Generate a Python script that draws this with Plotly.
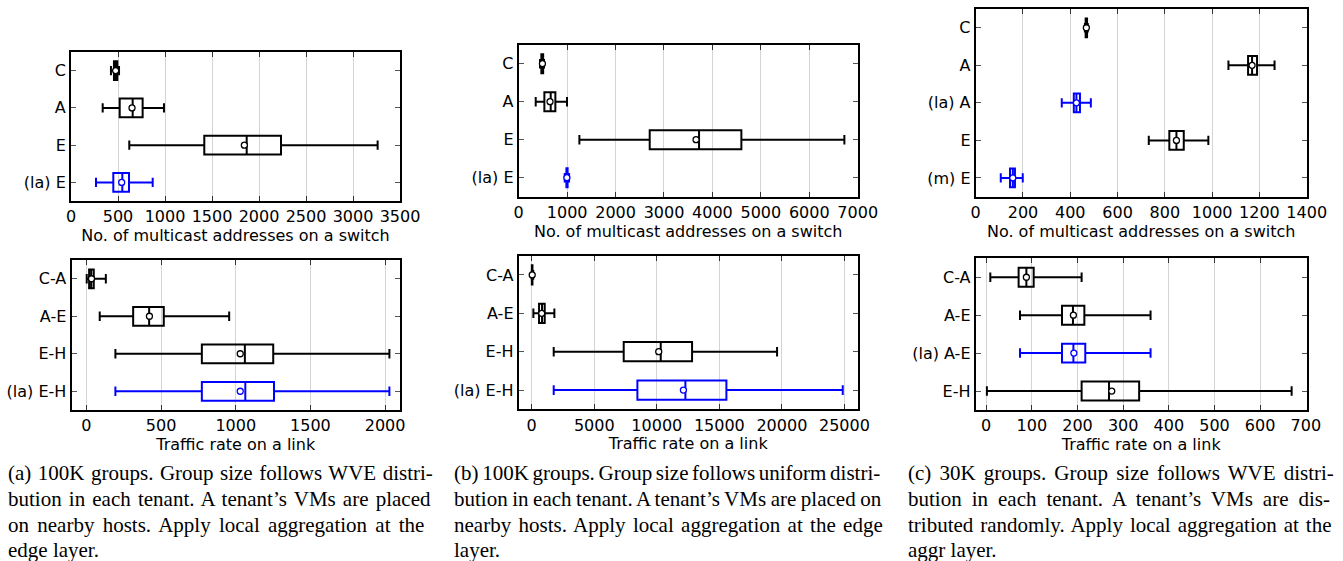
import plotly.graph_objects as go

W, H = 1343, 561

# ---------------- data ----------------
# (a) switches
a_sw_labels = ["C", "A", "E", "(la) E"]
a_sw_low = [425, 337, 620, 266]
a_sw_q1 = [457, 518, 1418, 450]
a_sw_med = [472, 656, 1869, 546]
a_sw_q3 = [493, 762, 2234, 617]
a_sw_high = [511, 989, 3262, 869]
a_sw_mean = [475, 649, 1844, 539]
a_sw_ticks = [0, 500, 1000, 1500, 2000, 2500, 3000, 3500]

# (a) links
a_ln_labels = ["C-A", "A-E", "E-H", "(la) E-H"]
a_ln_low = [2, 89, 194, 194]
a_ln_q1 = [18, 313, 773, 773]
a_ln_med = [32, 420, 1061, 1064]
a_ln_q3 = [49, 518, 1251, 1256]
a_ln_high = [130, 956, 2029, 2029]
a_ln_mean = [34, 422, 1030, 1030]
a_ln_ticks = [0, 500, 1000, 1500, 2000]

# (b) switches
b_sw_labels = ["C", "A", "E", "(la) E"]
b_sw_low = [440, 351, 1253, 950]
b_sw_q1 = [468, 530, 2705, 985]
b_sw_med = [488, 661, 3724, 995]
b_sw_q3 = [505, 757, 4598, 1010]
b_sw_high = [523, 998, 6725, 1040]
b_sw_mean = [490, 647, 3662, 995]
b_sw_ticks = [0, 1000, 2000, 3000, 4000, 5000, 6000, 7000]

# (b) links
b_ln_labels = ["C-A", "A-E", "E-H", "(la) E-H"]
b_ln_low = [0, 133, 1759, 1759]
b_ln_q1 = [10, 586, 7355, 8448]
b_ln_med = [40, 826, 10314, 12286]
b_ln_q3 = [60, 1039, 12819, 15564]
b_ln_high = [120, 1812, 19614, 24865]
b_ln_mean = [40, 800, 10154, 12126]
b_ln_ticks = [0, 5000, 10000, 15000, 20000, 25000]

# (c) switches
c_sw_labels = ["C", "A", "(la) A", "E", "(m) E"]
c_sw_low = [462, 1069, 364, 732, 106]
c_sw_q1 = [465, 1152, 415, 819, 145]
c_sw_med = [468, 1169, 426, 849, 157]
c_sw_q3 = [471, 1190, 441, 880, 166]
c_sw_high = [474, 1264, 487, 984, 199]
c_sw_mean = [468, 1169, 426, 849, 157]
c_sw_ticks = [0, 200, 400, 600, 800, 1000, 1200, 1400]

# (c) links
c_ln_labels = ["C-A", "A-E", "(la) A-E", "E-H"]
c_ln_low = [9, 74, 74, 1.5]
c_ln_q1 = [71, 166, 166, 209]
c_ln_med = [88, 190, 191, 269]
c_ln_q3 = [104, 215, 217, 335]
c_ln_high = [209, 360, 360, 669]
c_ln_mean = [88, 191, 192, 275]
c_ln_ticks = [0, 100, 200, 300, 400, 500, 600, 700]

sw_title = "No. of multicast addresses on a switch"
ln_title = "Traffic rate on a link"

cap_a = ["(a) 100K groups. Group size follows WVE distri-",
         "bution in each tenant. A tenant\u2019s VMs are placed",
         "on nearby hosts. Apply local aggregation at the",
         "edge layer."]
cap_b = ["(b) 100K groups. Group size follows uniform distri-",
         "bution in each tenant. A tenant\u2019s VMs are placed on",
         "nearby hosts. Apply local aggregation at the edge",
         "layer."]
cap_c = ["(c) 30K groups. Group size follows WVE distri-",
         "bution in each tenant. A tenant\u2019s VMs are dis-",
         "tributed randomly. Apply local aggregation at the",
         "aggr layer."]

# extra word spacing (px) to imitate the justified caption lines
cap_a_ws = [1.25, 1.9, 3.0, 0]
cap_b_ws = [-1.6, -0.7, 2.1, 0]
cap_c_ws = [2.9, 4.75, 1.7, 0]

# ---------------- layout / styling ----------------
panels = [
    (a_sw_labels, a_sw_low, a_sw_q1, a_sw_med, a_sw_q3, a_sw_high, a_sw_mean,
     a_sw_ticks, [0, 3500], sw_title, (71, 400, 52, 201)),
    (a_ln_labels, a_ln_low, a_ln_q1, a_ln_med, a_ln_q3, a_ln_high, a_ln_mean,
     a_ln_ticks, [-100, 2100], ln_title, (71.5, 400, 260, 410)),
    (b_sw_labels, b_sw_low, b_sw_q1, b_sw_med, b_sw_q3, b_sw_high, b_sw_mean,
     b_sw_ticks, [0, 7000], sw_title, (518.7, 857.7, 44.7, 196.7)),
    (b_ln_labels, b_ln_low, b_ln_q1, b_ln_med, b_ln_q3, b_ln_high, b_ln_mean,
     b_ln_ticks, [-1040, 26060], ln_title, (518.7, 857.7, 255.7, 409.3)),
    (c_sw_labels, c_sw_low, c_sw_q1, c_sw_med, c_sw_q3, c_sw_high, c_sw_mean,
     c_sw_ticks, [0, 1400], sw_title, (975.7, 1306.7, 9, 196.7)),
    (c_ln_labels, c_ln_low, c_ln_q1, c_ln_med, c_ln_q3, c_ln_high, c_ln_mean,
     c_ln_ticks, [-23, 702], ln_title, (975.7, 1306.7, 258.3, 410)),
]

AX_FONT = dict(family="DejaVu Sans", size=16, color="black")
BLACK = "#000000"
BLUE = "#0000ff"

fig = go.Figure()
layout = {}

for i, (labels, low, q1, med, q3, high, mean, ticks, xr, title, px) in enumerate(panels):
    n = i + 1
    xa = "x" if n == 1 else f"x{n}"
    ya = "y" if n == 1 else f"y{n}"
    pos = list(range(1, len(labels) + 1))
    colors = [BLUE if lab.startswith("(") else BLACK for lab in labels]
    for j in range(len(labels)):
        fig.add_trace(go.Box(
            y=[pos[j]], q1=[q1[j]], median=[med[j]], q3=[q3[j]],
            lowerfence=[low[j]], upperfence=[high[j]],
            orientation="h", xaxis=xa, yaxis=ya,
            width=0.5, whiskerwidth=0.5, boxpoints=False,
            line=dict(color=colors[j], width=2),
            fillcolor="rgba(0,0,0,0)", showlegend=False, hoverinfo="skip",
        ))
    fig.add_trace(go.Scatter(
        x=mean, y=pos, mode="markers", xaxis=xa, yaxis=ya,
        marker=dict(symbol="circle", size=6, color="white",
                    line=dict(color=colors, width=1.3)),
        showlegend=False, hoverinfo="skip",
    ))
    x0, x1, y0, y1 = px
    layout["xaxis" if n == 1 else f"xaxis{n}"] = dict(
        domain=[x0 / W, x1 / W], anchor=ya, range=xr, automargin=False,
        tickmode="array", tickvals=ticks, ticktext=[str(t) for t in ticks],
        showline=True, linecolor="black", linewidth=2, mirror="ticks",
        ticks="inside", ticklen=5, tickcolor="#333", tickwidth=1,
        showgrid=True, gridcolor="#d4d4d4", gridwidth=1, zeroline=False,
        tickfont=AX_FONT,
        title=dict(text=title, font=AX_FONT, standoff=1),
    )
    layout["yaxis" if n == 1 else f"yaxis{n}"] = dict(
        domain=[1 - y1 / H, 1 - y0 / H], anchor=xa, automargin=False,
        range=[len(labels) + 0.5, 0.5],
        tickmode="array", tickvals=pos, ticktext=labels,
        showline=True, linecolor="black", linewidth=2, mirror="ticks",
        ticks="inside", ticklen=5, tickcolor="#555", tickwidth=1,
        showgrid=False, zeroline=False, tickfont=AX_FONT,
    )

annotations = []
cap_x = [6.7, 452.7, 906.7]
cap_y = [473, 499, 525, 550]
for cx, cap, wss in zip(cap_x, [cap_a, cap_b, cap_c], [cap_a_ws, cap_b_ws, cap_c_ws]):
    for cy, line, ws in zip(cap_y, cap, wss):
        annotations.append(dict(
            text=f'<span style="word-spacing:{ws}px">{line}</span>',
            x=cx / W, y=1 - cy / H, xref="paper", yref="paper",
            xanchor="left", yanchor="middle", showarrow=False, borderpad=0,
            font=dict(family="Liberation Serif", size=21, color="black"),
        ))

fig.update_layout(
    template="none",
    width=W, height=H, margin=dict(l=0, r=0, t=0, b=0, pad=0),
    paper_bgcolor="white", plot_bgcolor="white",
    boxmode="overlay", annotations=annotations, **layout,
)

fig.write_html(
    "out.html",
    config={"displayModeBar": False},
    post_script="document.body.style.margin='0';document.body.style.overflow='hidden';",
)
